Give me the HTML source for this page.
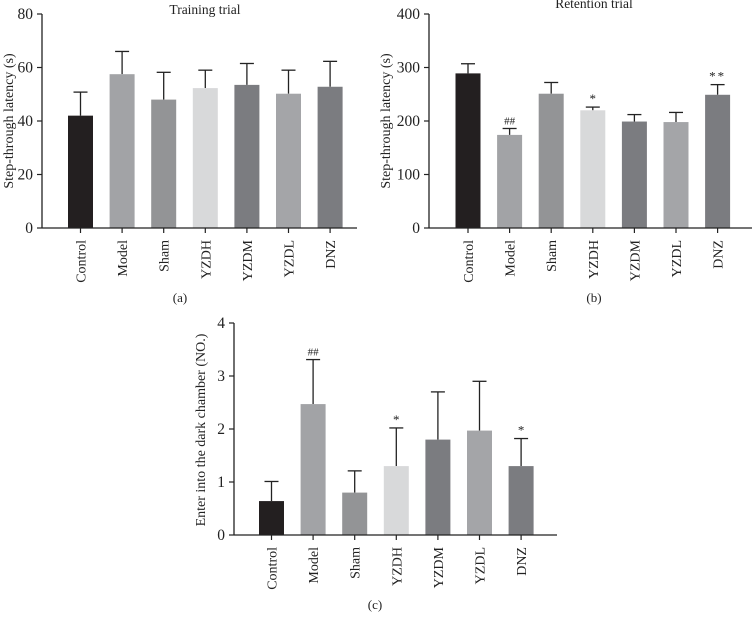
<!DOCTYPE html>
<html><head><meta charset="utf-8"><style>
html,body{margin:0;padding:0;background:#fff;}
svg{display:block;font-family:"Liberation Serif",serif;}
</style></head><body>
<svg id="fig" width="754" height="625" viewBox="0 0 754 625"></svg>
<script>
const categories = ["Control","Model","Sham","YZDH","YZDM","YZDL","DNZ"];
const colors = ["#231f20","#a2a3a6","#939496","#d8d9da","#7b7c80","#a4a5a8","#7b7c80"];
const valuesA = [42, 57.5, 48, 52.3, 53.5, 50.2, 52.8];
const errTopA = [50.8, 66, 58.2, 59, 61.5, 59, 62.3];
const ticksA = [0, 20, 40, 60, 80];
const valuesB = [289, 174, 251, 220, 199, 198, 249];
const errTopB = [307, 186, 272, 226, 212, 216, 268];
const ticksB = [0, 100, 200, 300, 400];
const sigB = ["", "##", "", "*", "", "", "**"];
const valuesC = [0.64, 2.47, 0.8, 1.3, 1.8, 1.97, 1.3];
const errTopC = [1.01, 3.31, 1.21, 2.02, 2.7, 2.9, 1.82];
const ticksC = [0, 1, 2, 3, 4];
const sigC = ["", "##", "", "*", "", "", "*"];

const NS = "http://www.w3.org/2000/svg";
const svg = document.getElementById("fig");
function el(tag, attrs, parent, text) {
  const e = document.createElementNS(NS, tag);
  for (const k in attrs) e.setAttribute(k, attrs[k]);
  if (text !== undefined) e.textContent = text;
  (parent || svg).appendChild(e);
  return e;
}
function chart(cfg) {
  const g = el("g", {}, svg);
  
  
  const yScale = v => cfg.y0 - (v - cfg.min) / (cfg.max - cfg.min) * (cfg.y0 - cfg.yTop);
  const xScale = i => cfg.c0 + i * cfg.step;
  const ya = el("line", {x1: cfg.ax, y1: cfg.yTop, x2: cfg.ax, y2: cfg.y0, stroke: "#222", "stroke-width": 1.3}, g);
  
  
  cfg.ticks.forEach(t => {
    const y = yScale(t);
    el("line", {x1: cfg.ax - 5, y1: y, x2: cfg.ax, y2: y, stroke: "#222", "stroke-width": 1.2}, g);
    const tl = el("text", {x: cfg.ax - 9, y: y + 5, "text-anchor": "end", "font-size": 15.5, fill: "#222"}, g, String(t));
    
    
  });
  const yt = el("text", {x: cfg.ylx, y: cfg.yly, "text-anchor": "middle", "font-size": 14, fill: "#222", transform: `rotate(-90 ${cfg.ylx} ${cfg.yly})`}, g, cfg.ylabel);
  
  
  cfg.values.forEach((v, i) => {
    const cx = xScale(i), w = 25;
    const et = yScale(cfg.err[i]);
    el("line", {x1: cx, y1: et, x2: cx, y2: yScale(v), stroke: "#222", "stroke-width": 1.3}, g);
    el("line", {x1: cx - 7, y1: et, x2: cx + 7, y2: et, stroke: "#222", "stroke-width": 1.3}, g);
    const b = el("rect", {x: cx - w / 2, y: yScale(v), width: w, height: cfg.y0 - yScale(v), fill: colors[i]}, g);
    
    
    if (cfg.sig && cfg.sig[i]) {
      const s = el("text", {x: cx, y: et - 4, "text-anchor": "middle", "font-size": cfg.sig[i] === "##" ? 11 : 13, fill: "#222", "letter-spacing": cfg.sig[i] === "**" ? 2 : 0}, g, cfg.sig[i]);
      
      
    }
    el("line", {x1: cx, y1: cfg.y0, x2: cx, y2: cfg.y0 + 5, stroke: "#222", "stroke-width": 1.2}, g);
    const ly = cfg.y0 + 12;
    const cl = el("text", {x: cx + 5, y: ly, "text-anchor": "end", "font-size": 14, fill: "#222", transform: `rotate(-90 ${cx + 5} ${ly})`}, g, categories[i]);
    
    
  });
  const xa = el("line", {x1: cfg.ax, y1: cfg.y0, x2: cfg.axEnd, y2: cfg.y0, stroke: "#222", "stroke-width": 1.3}, g);
  
  
  if (cfg.title) {
    const t = el("text", {x: cfg.tx, y: cfg.ty, "text-anchor": "middle", "font-size": 13.5, fill: "#222"}, g, cfg.title);
    
    
  }
  const p = el("text", {x: cfg.px, y: cfg.py, "text-anchor": "middle", "font-size": 13, fill: "#222"}, g, cfg.panel);
  
  
}
chart({name: "chart-training-trial", values: valuesA, err: errTopA, ticks: ticksA, min: 0, max: 80,
  ax: 42, axEnd: 357, y0: 228, yTop: 14, c0: 80.5, step: 41.6, ylx: 13, yly: 121,
  ylabel: "Step-through latency (s)", title: "Training trial", tx: 205, ty: 14, panel: "(a)", px: 180, py: 302});
chart({name: "chart-retention-trial", values: valuesB, err: errTopB, ticks: ticksB, min: 0, max: 400, sig: sigB,
  ax: 429, axEnd: 752, y0: 228, yTop: 14, c0: 468, step: 41.6, ylx: 390, yly: 121,
  ylabel: "Step-through latency (s)", title: "Retention trial", tx: 594, ty: 8, panel: "(b)", px: 594, py: 302});
chart({name: "chart-dark-chamber-entries", values: valuesC, err: errTopC, ticks: ticksC, min: 0, max: 4, sig: sigC,
  ax: 234, axEnd: 557, y0: 535, yTop: 323, c0: 271.5, step: 41.6, ylx: 205, yly: 430,
  ylabel: "Enter into the dark chamber (NO.)", panel: "(c)", px: 375, py: 609});
</script>
</body></html>
